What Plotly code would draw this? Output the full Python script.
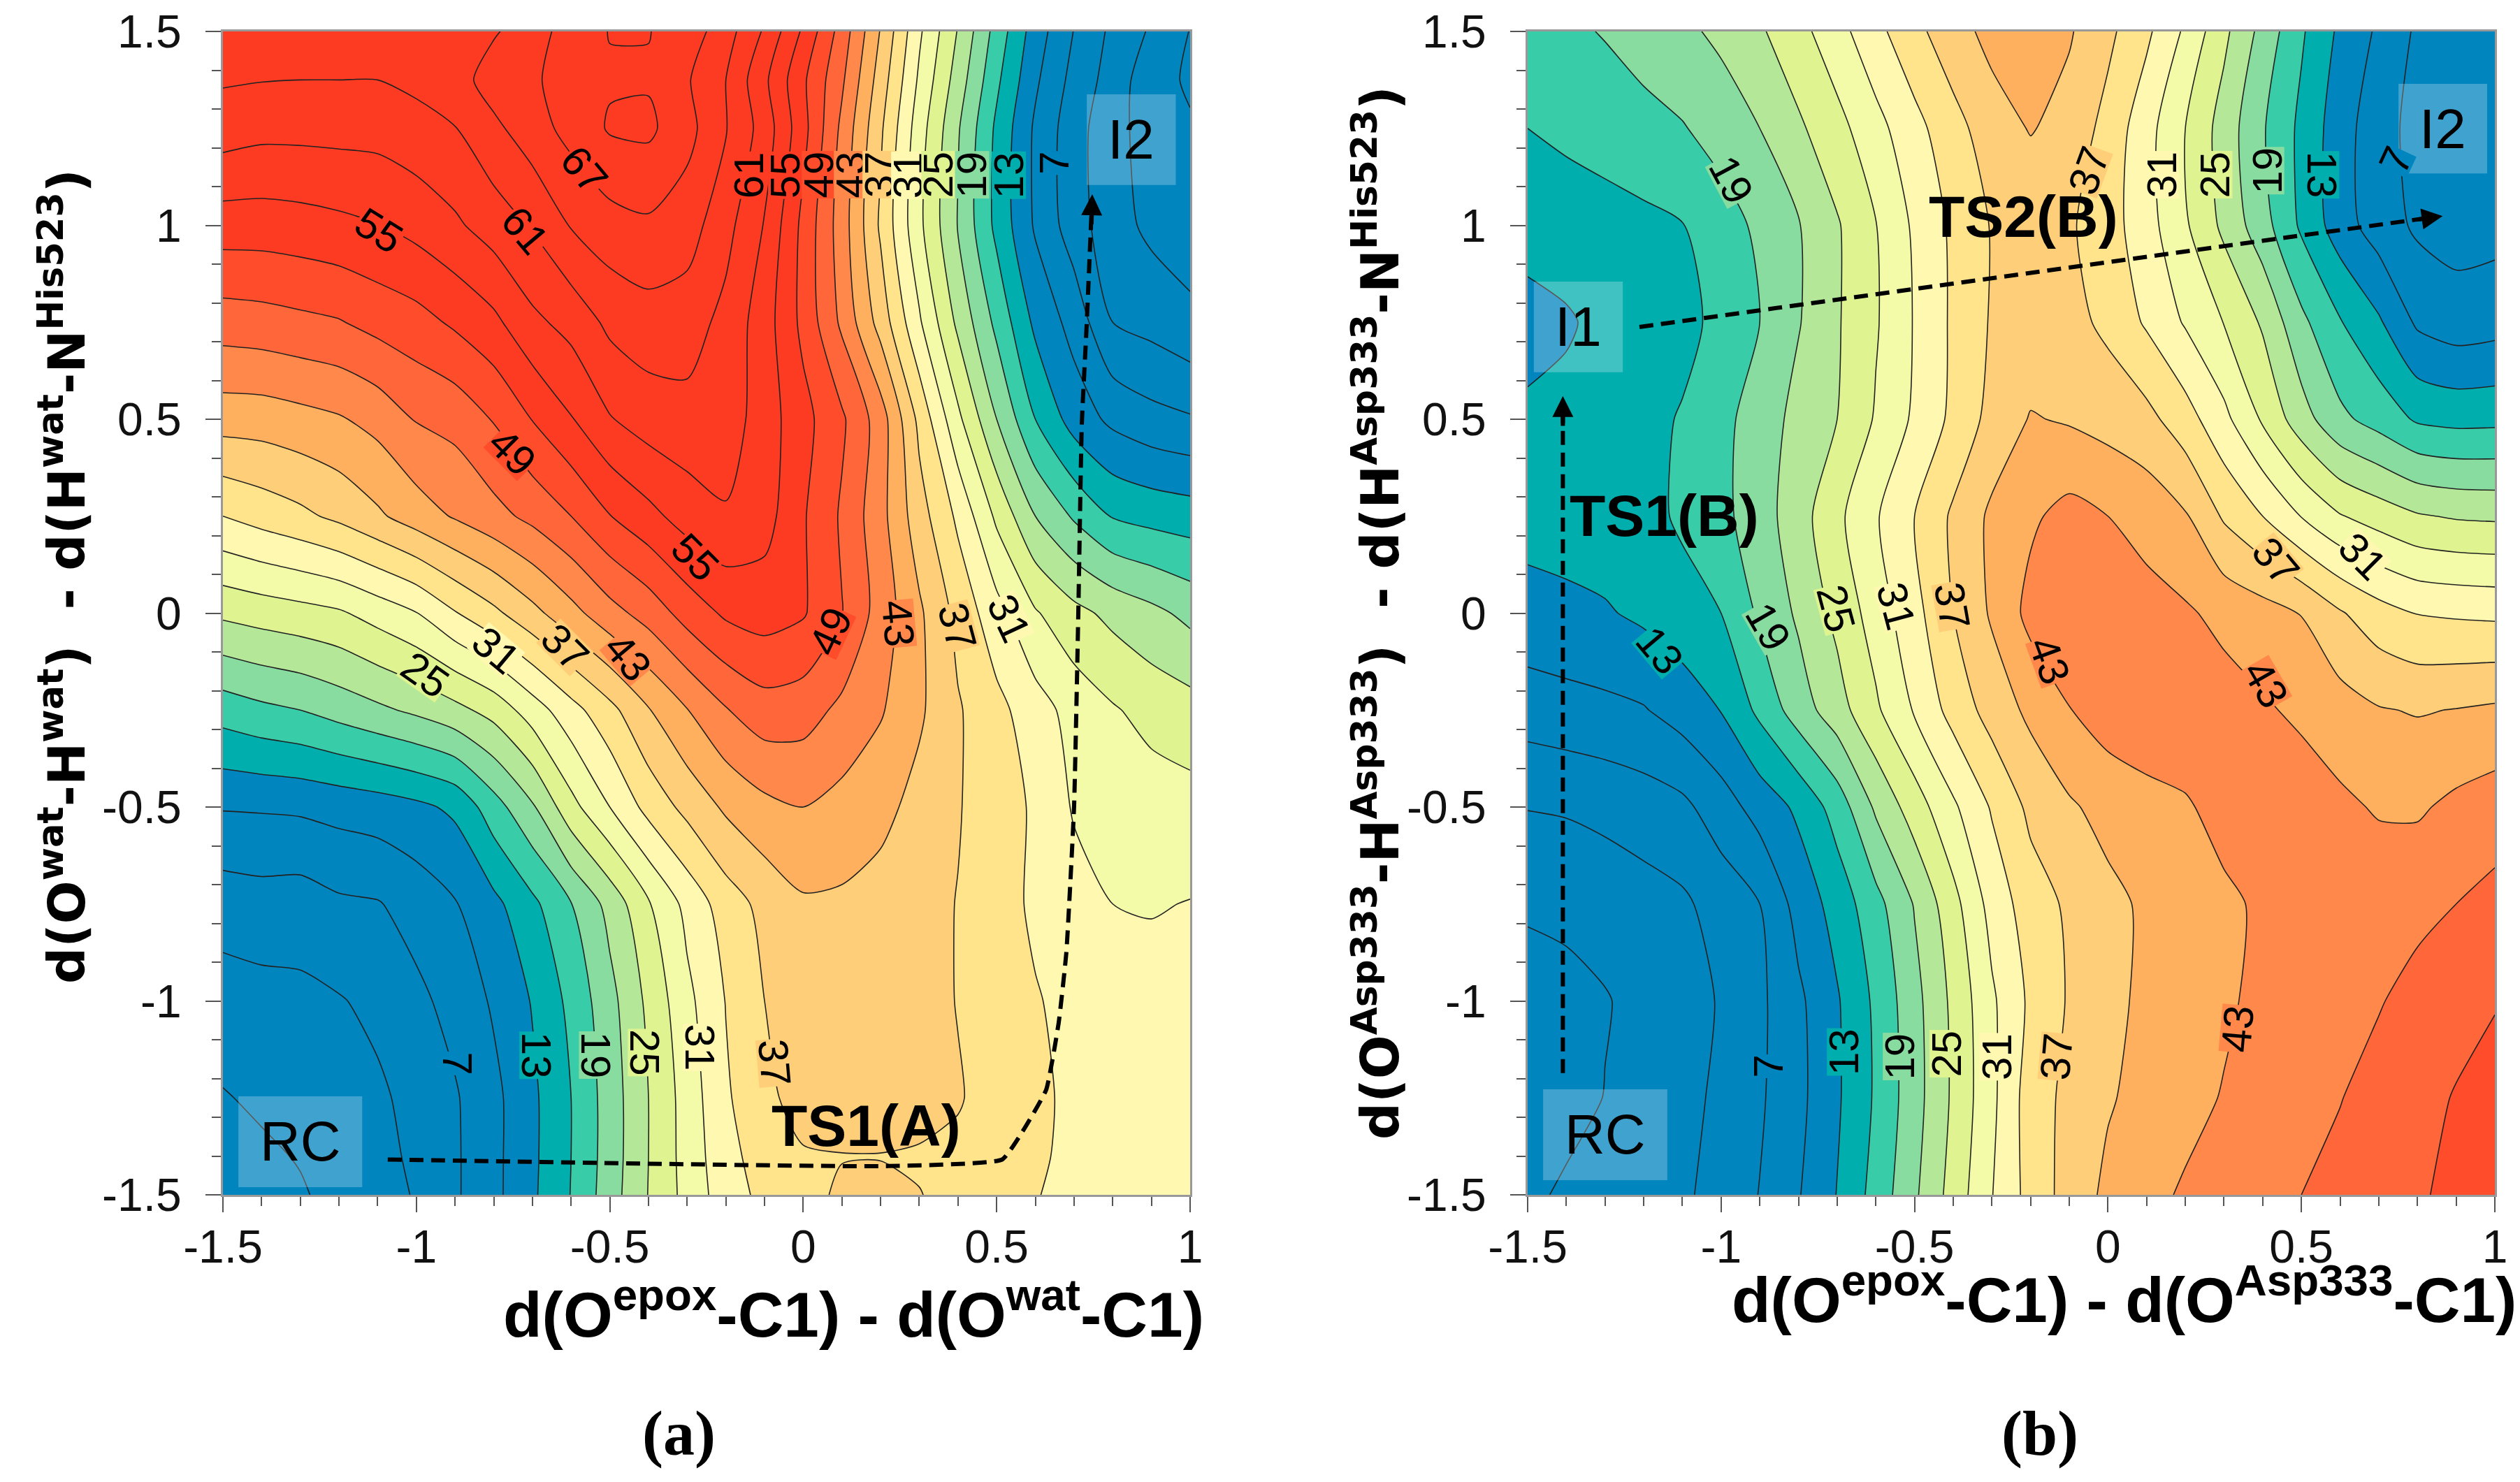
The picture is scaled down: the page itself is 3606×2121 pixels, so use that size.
import plotly.graph_objects as go

# grid of both free energy maps
x_grid = [-1.5, -1.4, -1.3, -1.2, -1.1, -1.0, -0.9, -0.8, -0.7, -0.6, -0.5, -0.4, -0.3,
          -0.2, -0.1, 0.0, 0.1, 0.2, 0.3, 0.4, 0.5, 0.6, 0.7, 0.8, 0.9, 1.0]
y_grid_a = [1.5, 1.375, 1.25, 1.0, 0.75, 0.5, 0.25, 0.0, -0.25, -0.5, -0.75, -1.0, -1.25, -1.4, -1.5]
y_grid_b = [1.5, 1.25, 1.0, 0.75, 0.5, 0.25, 0.0, -0.25, -0.5, -0.75, -1.0, -1.25, -1.5]

# panel (a), one row per y value
z_a = [
    [63, 63, 63, 63, 63, 63, 63.3, 63.7, 65.5, 68.5, 70.1, 70.1, 68.7, 65.3, 60.6, 54.5, 47.7, 39.8, 31.5, 24.8, 17.8, 11.5, 6.9, 3.3, 0.6, -2.1],
    [61.3, 61.1, 61, 61, 61, 61.7, 62.7, 65.4, 66.5, 68.5, 69.7, 69.7, 67.3, 64, 58.6, 52.5, 46.5, 38.6, 30.5, 23.6, 16.6, 10.5, 6, 2.7, -0.9, -2.4],
    [59.5, 58.9, 58.9, 59, 59.1, 59.9, 60.9, 63.3, 65.7, 68, 70.3, 70.6, 68, 64.2, 59.7, 53, 45.3, 37.5, 29.4, 22.3, 15.4, 9.5, 5.2, 2, -0.3, -1.7],
    [53.5, 53.5, 53.8, 54.3, 54.9, 56, 57.5, 59.4, 61.3, 64.2, 65.8, 66.5, 65.4, 62, 57.8, 51.2, 44.5, 36.5, 28.7, 21.8, 15.2, 9.6, 5.4, 2.2, 0.3, -0.5],
    [47.5, 47.8, 48.3, 48.8, 50, 50.9, 52.5, 54.3, 57.3, 59, 61.7, 62.7, 62.4, 60.1, 56.4, 51.2, 45.4, 38.8, 31.4, 24.3, 18.2, 12.3, 8.9, 4, 3, 1.7],
    [41.3, 41.4, 42, 42.7, 44, 46.2, 47, 49.2, 52.1, 54.8, 57.8, 59.4, 60, 59.6, 56.5, 53, 49.5, 44.5, 36.2, 28.7, 22, 16, 11.7, 9.3, 8, 7.3],
    [34, 35.2, 36.3, 37.7, 39.5, 41.5, 43.3, 45, 46.8, 49, 51.9, 54.1, 56.3, 57.7, 56.2, 52.3, 48.6, 44, 38.3, 33.4, 27.4, 22, 18.6, 15.8, 15, 14.5],
    [25.6, 26.3, 26.9, 27.6, 29.2, 30.9, 33.8, 36.3, 39.1, 42, 44.9, 47.2, 50.2, 52.5, 53.3, 52.3, 49.1, 44.7, 40.5, 36.1, 32.1, 28.3, 25.9, 24.2, 22.8, 21.2],
    [17.3, 18.3, 19, 20.2, 21.4, 22.6, 24.1, 26.1, 29.5, 32.9, 36.1, 39.8, 42.9, 45.8, 47.7, 47.3, 45.3, 43.3, 40.5, 37.3, 34.9, 32.3, 29.9, 28.3, 27, 26.2],
    [10.2, 10.3, 10.5, 11, 11.5, 12.3, 13.6, 17.7, 21.6, 27, 31, 35, 37.9, 40.5, 42.2, 43, 42, 40.9, 39, 37.2, 35.3, 33.6, 30.7, 30, 29.5, 29.1],
    [5.3, 5.7, 5.5, 6.5, 6.8, 8.2, 9.8, 12.2, 15.3, 18.9, 23, 27.7, 31.9, 35.5, 37.9, 39.6, 39.5, 38.8, 38, 36.9, 35.2, 33.5, 32.2, 31, 30.8, 31.1],
    [2.7, 3, 3.3, 3.8, 4.7, 6.3, 8, 10.4, 13.2, 16.8, 21, 25.7, 30.2, 34.1, 37, 38.5, 38.5, 38.3, 38, 36.9, 35.5, 34.2, 33.2, 32.6, 32.1, 32],
    [0.8, 1.5, 2.1, 2.8, 3.5, 4.9, 6.7, 9.2, 12.4, 16, 20.4, 25, 29.3, 33.6, 36.2, 38.3, 38.7, 38.8, 38.5, 37.2, 36, 34.6, 33.4, 33, 32.8, 32.5],
    [0, 0.5, 1.2, 2.2, 3.2, 4.5, 6.6, 9.2, 12.4, 16, 20.4, 25, 29.2, 33, 35.4, 36.7, 36.9, 36.9, 36.6, 36.5, 35.5, 34.4, 33.4, 33.1, 32.9, 32.7],
    [-0.8, -0.3, 0.7, 1.9, 3, 4.2, 6.6, 9.2, 12.5, 16.1, 20.6, 25.1, 29, 32.6, 34.8, 36.2, 37.4, 37.7, 37.1, 36.1, 35.1, 34.1, 33.4, 33.2, 33, 33],
]

# panel (b)
z_b = [
    [18, 18.4, 19.2, 20.3, 21.3, 22.7, 24.6, 27, 29.9, 33.1, 36.2, 38.7, 41, 41.8, 40.3, 37.7, 34.6, 30.5, 25.7, 21, 16.4, 12.4, 9.5, 6.5, 5.3, 5],
    [16, 16.7, 17.3, 18, 18.8, 20.2, 22, 24.5, 27, 30, 33, 36, 38.5, 40.2, 38.9, 36, 32.1, 28, 23.7, 19.3, 15.3, 11.3, 8.2, 6, 5.2, 5.2],
    [13.9, 14.3, 14.8, 15.3, 15.9, 17.7, 19.6, 21.8, 24.7, 27.9, 31.5, 34.6, 37.2, 37.6, 37.4, 35.3, 32.2, 28.4, 24.3, 20.2, 15.5, 11.4, 8.5, 6.5, 5.8, 6],
    [12.2, 12.7, 13.7, 14.3, 14.9, 17, 19, 21.8, 24.7, 27.7, 31.2, 34.5, 37.3, 38, 38, 36.3, 33.6, 30.7, 27.9, 24.6, 19.7, 16.2, 13.4, 9.5, 8.4, 8.8],
    [13.4, 13.7, 14.2, 14.9, 16.3, 18.2, 20.3, 23, 25, 28.3, 31.5, 34.7, 38, 40.2, 39.7, 38.9, 37.9, 35.3, 31.8, 27.6, 23.3, 19.7, 17.8, 15.6, 15.1, 15.2],
    [14, 14.3, 14.7, 15, 16.5, 18.2, 20.6, 23.7, 27.3, 30.7, 34, 37.5, 40.6, 42.5, 44, 43, 41.9, 40.3, 36.6, 34, 30.9, 28.2, 26.7, 25.3, 24.7, 24.5],
    [12, 12.3, 12.7, 13.6, 14.8, 16, 19.5, 22.5, 25.8, 29.4, 33, 37, 40.4, 43.9, 45, 44.9, 44.1, 43.4, 42.2, 41.2, 39.9, 37.3, 35.2, 33.9, 33.6, 33.4],
    [8.4, 8.9, 9.3, 9.8, 11.3, 13.1, 16.7, 20.5, 23.7, 27.5, 31.3, 35.1, 38.2, 40.7, 42.9, 44.5, 45, 44.8, 44.3, 43.4, 42.4, 41.3, 40.2, 39.8, 40.1, 40.5],
    [4.1, 4.3, 4.8, 5.5, 6.3, 8.6, 11.2, 13.6, 17.3, 22.5, 26.5, 30.5, 34.3, 37.7, 39.6, 41, 42, 42.7, 43.9, 44.5, 44.7, 43.6, 42.7, 42.6, 43.7, 44.5],
    [1.4, 1.7, 2.2, 2.8, 3.5, 5.2, 7, 11.1, 14.2, 18, 22.2, 27, 32.1, 35.6, 37.5, 39.2, 40.5, 41.5, 42.5, 43.4, 44, 44.5, 44.9, 45.2, 46, 46.9],
    [-0.3, 0.1, 0.8, 1.9, 3, 4.2, 6.4, 9.4, 12.7, 16.6, 21, 25.7, 30.5, 34.6, 37.3, 39, 40.8, 41.9, 42.5, 43.8, 44.5, 45, 45.8, 47, 47.9, 48.8],
    [-1, -0.3, 1.1, 2.2, 3.1, 4.6, 6.6, 9.2, 12.6, 16.4, 20.8, 25.5, 30.3, 35.5, 37.8, 39.7, 41, 42, 43.2, 44.1, 45, 45.9, 47.1, 48, 49.2, 50.2],
    [0.2, 1.6, 2.2, 2.8, 3.5, 5.1, 7.1, 9.8, 13.1, 17.1, 21.5, 26.2, 30.9, 35.1, 38.2, 40.7, 42.1, 43.4, 44.2, 45.1, 46, 46.9, 47.8, 48.7, 49.6, 50.5],
]

# colour bands, upper edge of each one
band_edges = [-2, 13, 16, 19, 22, 25, 28, 31, 34, 37, 40, 43, 46, 49, 52, 70]
band_colors = ['#0085BF', '#00AEAE', '#38CCA8', '#88DCA0', '#B4E898', '#DFF490', '#F3FBA8', '#FFF8B0',
               '#FFE48C', '#FFCE78', '#FFB05E', '#FF884A', '#FF663A', '#FF4C2A', '#FC3B22']

# contour labels: x, y, text, angle
labels_a = [(-1.097, 0.987, 55, 32), (-0.719, 0.987, 61, 50), (-0.566, 1.144, 67, 50), (-0.752, 0.416, 49, 45),
            (-0.279, 0.143, 55, 45), (-0.977, -0.159, 25, 35), (-0.794, -0.097, 31, 40), (-0.615, -0.089, 37, 45),
            (-0.453, -0.114, 43, 50), (0.07, -0.047, 49, -65), (0.244, -0.027, 43, 85), (0.398, -0.035, 37, 75),
            (0.531, -0.014, 31, 65), (-0.14, 1.13, 61, -90), (-0.046, 1.13, 55, -90), (0.041, 1.13, 49, -90),
            (0.124, 1.13, 43, -90), (0.198, 1.13, 37, -90), (0.272, 1.13, 31, -90), (0.35, 1.13, 25, -90),
            (0.437, 1.13, 19, -90), (0.532, 1.13, 13, -90), (0.648, 1.16, 7, -90), (-0.894, -1.161, 7, 90),
            (-0.69, -1.14, 13, 90), (-0.536, -1.14, 19, 90), (-0.409, -1.134, 25, 90), (-0.267, -1.12, 31, 90),
            (-0.075, -1.16, 37, 85)]
labels_b = [(-0.973, 1.117, 19, 62), (-0.049, 1.141, 37, -70), (0.138, 1.131, 31, -90), (0.277, 1.131, 25, -90),
            (0.412, 1.141, 19, -90), (0.554, 1.131, 13, 90), (0.745, 1.168, 7, -65), (-1.159, -0.097, 13, 50),
            (-0.879, -0.036, 19, 60), (-0.703, 0.012, 25, 75), (-0.547, 0.018, 31, 75), (-0.402, 0.018, 37, 80),
            (-0.152, -0.122, 43, 70), (0.408, -0.182, 43, 60), (0.433, 0.134, 37, 50), (0.657, 0.146, 31, 45),
            (-0.879, -1.168, 7, -90), (-0.682, -1.131, 13, -90), (-0.537, -1.144, 19, -90), (-0.418, -1.137, 25, -90),
            (-0.287, -1.144, 31, -90), (-0.132, -1.144, 37, -85), (0.335, -1.071, 43, -85)]

# reaction paths
path_a_x = [-1.074, 0.213, 0.514, 0.566, 0.628, 0.66, 0.68, 0.70, 0.711, 0.72, 0.732, 0.745]
path_a_y = [-1.409, -1.426, -1.409, -1.338, -1.229, -1.058, -0.876, -0.5, 0.0, 0.487, 0.73, 1.03]
path_b1_x = [-1.409, -1.409]
path_b1_y = [-1.186, 0.52]
path_b2_x = [-1.211, 0.82]
path_b2_y = [0.738, 1.018]

tick_x = [-1.5, -1, -0.5, 0, 0.5, 1]
tick_y = [-1.5, -1, -0.5, 0, 0.5, 1, 1.5]

W, H = 3606, 2121
OX, OY = -5, -8  # page margin of the browser
ARIAL = 'Liberation Sans'


def stepped_scale():
    lo, hi = band_edges[0], band_edges[-1]
    scale = []
    for i, c in enumerate(band_colors):
        scale.append([(band_edges[i] - lo) / (hi - lo), c])
        scale.append([(band_edges[i + 1] - lo) / (hi - lo), c])
    return scale


def band_color(level):
    for i, c in enumerate(band_colors):
        if band_edges[i] <= level < band_edges[i + 1]:
            return c
    return band_colors[-1]


def contour(z, y, xaxis, yaxis):
    return go.Contour(x=x_grid, y=y, z=z, xaxis=xaxis, yaxis=yaxis, showscale=False, zauto=False,
                      zmin=band_edges[0], zmax=band_edges[-1], colorscale=stepped_scale(),
                      autocontour=False, contours=dict(start=-2, end=70, size=3, coloring='fill'),
                      line=dict(color='#222222', width=1.6, smoothing=0.7))


fig = go.Figure()
fig.add_trace(contour(z_a, y_grid_a, 'x', 'y'))
fig.add_trace(contour(z_b, y_grid_b, 'x2', 'y2'))

dash_style = dict(color='black', width=6, dash='20px,11px')
fig.add_trace(go.Scatter(x=path_a_x, y=path_a_y, mode='lines', xaxis='x', yaxis='y', line=dict(shape='spline', smoothing=0.4, **dash_style)))
fig.add_trace(go.Scatter(x=path_b1_x, y=path_b1_y, mode='lines', xaxis='x2', yaxis='y2', line=dash_style))
fig.add_trace(go.Scatter(x=path_b2_x, y=path_b2_y, mode='lines', xaxis='x2', yaxis='y2', line=dash_style))

annotations = []


def note(text, x, y, xref='paper', yref='paper', size=60, family=ARIAL, angle=0, bg=None, height=None):
    annotations.append(dict(text=text, x=x, y=y, xref=xref, yref=yref, showarrow=False, textangle=angle,
                            font=dict(family=family, size=size, color='black'), xanchor='center', yanchor='middle',
                            bgcolor=bg, borderpad=0, height=height))


for xx, yy, lev, ang in labels_a:
    note(str(lev), xx, yy, 'x', 'y', angle=ang, bg=band_color(lev), height=48)
for xx, yy, lev, ang in labels_b:
    note(str(lev), xx, yy, 'x2', 'y2', angle=ang, bg=band_color(lev), height=48)


def arrow(x, y, ax, ay, xref, yref):
    annotations.append(dict(x=x, y=y, ax=ax, ay=ay, xref=xref, yref=yref, axref=xref, ayref=yref, text='',
                            showarrow=True, arrowhead=2, arrowsize=1, arrowwidth=6, arrowcolor='black'))


arrow(0.747, 1.08, 0.745, 1.0, 'x', 'y')
arrow(-1.409, 0.56, -1.409, 0.48, 'x2', 'y2')
arrow(0.865, 1.024, 0.8, 1.015, 'x2', 'y2')

# state boxes
boxes = [('RC', -1.46, -1.14, -1.48, -1.246, 'x', 'y'),
         ('I2', 0.733, 0.963, 1.338, 1.104, 'x', 'y'),
         ('RC', -1.46, -1.139, -1.462, -1.228, 'x2', 'y2'),
         ('I2', 0.751, 0.98, 1.365, 1.134, 'x2', 'y2'),
         ('I1', -1.484, -1.254, 0.855, 0.621, 'x2', 'y2')]
shapes = []
for name, x0, x1, y0, y1, xr, yr in boxes:
    shapes.append(dict(type='rect', xref=xr, yref=yr, x0=x0, x1=x1, y0=y0, y1=y1, fillcolor='rgba(255,255,255,0.25)',
                       line=dict(width=0), layer='above'))
    note(name, (x0 + x1) / 2, (y0 + y1) / 2, xr, yr, size=80)

note('<b>TS1(A)</b>', 0.162, -1.321, 'x', 'y', size=84)
note('<b>TS2(B)</b>', -0.218, 1.022, 'x2', 'y2', size=84)
note('<b>TS1(B)</b>', -1.146, 0.251, 'x2', 'y2', size=84)


def px(x):
    return (x + OX) / W


def py(y):
    return 1 - (y + OY) / H


note('<b>d(O<sup>epox</sup>-C1) - d(O<sup>wat</sup>-C1)</b>', px(1218), py(1874), size=91)
note('<b>d(O<sup>epox</sup>-C1) - d(O<sup>Asp333</sup>-C1)</b>', px(3036), py(1853), size=91)
note('<b>d(O<sup>wat</sup>-H<sup>wat</sup>)  - d(H<sup>wat</sup>-N<sup>His523</sup>)</b>', px(87), py(825), size=73,
     family='DejaVu Sans', angle=-90)
note('<b>d(O<sup>Asp333</sup>-H<sup>Asp333</sup>)  - d(H<sup>Asp333</sup>-N<sup>His523</sup>)</b>', px(1967), py(877), size=74,
     family='DejaVu Sans', angle=-90)
note('<b>(a)</b>', px(968), py(2052), size=90, family='Liberation Serif')
note('<b>(b)</b>', px(2916), py(2052), size=90, family='Liberation Serif')


def axis(domain, anchor, vals, rng, standoff):
    return dict(domain=domain, anchor=anchor, range=rng, tickmode='array', tickvals=vals, ticktext=[str(v) for v in vals],
                ticks='outside', ticklen=22, tickwidth=2, tickcolor='#555555', showline=True, linecolor='#999999',
                linewidth=3, mirror=True, showgrid=False, zeroline=False, ticklabelstandoff=standoff, automargin=False,
                tickfont=dict(family=ARIAL, size=66, color='#111111'),
                minor=dict(tickmode='linear', tick0=-1.5, dtick=0.1, ticks='outside', ticklen=13, tickwidth=2,
                           tickcolor='#555555', showgrid=False))


y_dom = [py(1710), py(45)]
fig.update_layout(
    width=W, height=H, autosize=False, margin=dict(l=0, r=0, t=0, b=0), paper_bgcolor='white', plot_bgcolor='white',
    showlegend=False, annotations=annotations, shapes=shapes,
    xaxis=axis([px(316), px(1700)], 'y', tick_x, [-1.5, 1], -7),
    yaxis=axis(y_dom, 'x', tick_y, [-1.5, 1.5], 21),
    xaxis2=axis([px(2183), px(3567)], 'y2', tick_x, [-1.5, 1], -7),
    yaxis2=axis(y_dom, 'x2', tick_y, [-1.5, 1.5], 21),
)

fig.write_html("out.html")
